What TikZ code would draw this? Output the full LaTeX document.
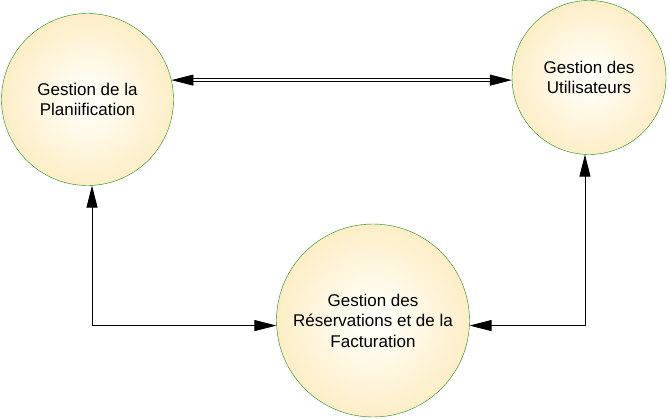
\documentclass[tikz,border=0pt]{standalone}
\usepackage{fontspec}
\setmainfont{Liberation Sans}
\usetikzlibrary{arrows.meta}
\definecolor{bulle}{HTML}{FCEABB}
\definecolor{coeur}{HTML}{FFFEF8}
\definecolor{bord}{HTML}{168A16}
\pgfdeclareradialshading{fondbulle}{\pgfpointorigin}{color(0bp)=(coeur); color(3bp)=(coeur); color(30bp)=(bulle); color(50bp)=(bulle)}
\tikzset{
  pointe/.tip={Triangle[length=22pt,width=11pt]},
}

\begin{document}
\begin{tikzpicture}[x=1pt, y=-1pt,
    processus/.style={circle, draw=bord, thin, shading=fondbulle,
        inner sep=0pt, align=center, font=\fontsize{17}{20.5}\selectfont},
    flux/.style={black, line width=0.8pt, pointe-pointe},
    fluxdouble/.style={flux, double, double distance=2pt, line width=0.8pt}
]
    \useasboundingbox (0,0) rectangle (670,420);

    %les trois processus
    \node[processus, minimum size=172pt] (plan) at (87.5,99.5) {Gestion de la\\Planiification};
    \node[processus, minimum size=154pt] (user) at (589,77.5) {Gestion des\\Utilisateurs};
    \node[processus, minimum size=193pt] (resa) at (373,320.5) {Gestion des\\Réservations et de la\\Facturation};

    %echanges
    \draw[fluxdouble] (plan.13) -- (user.west |- plan.13);
    \draw[flux] (plan.-87) |- (resa.183.6);
    \draw[flux] (user.-93) |- (resa.-3.6);
\end{tikzpicture}
\end{document}
